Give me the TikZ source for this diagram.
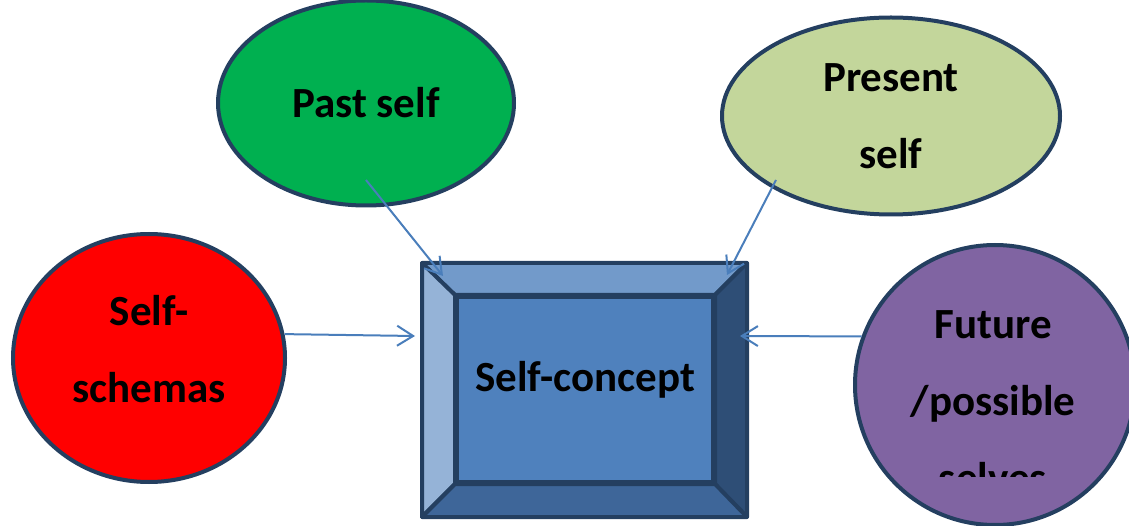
\documentclass[tikz,border=0pt]{standalone}
\usepackage{fontspec}
\setmainfont{Carlito}
\usetikzlibrary{shapes.geometric, arrows.meta}
\definecolor{rim}{HTML}{243F60}
\definecolor{linkblue}{HTML}{4A7EBB}
\definecolor{pastgreen}{HTML}{00B050}
\definecolor{presentgreen}{HTML}{C3D69B}
\definecolor{schemared}{HTML}{FF0000}
\definecolor{futurepurple}{HTML}{8064A2}
\definecolor{boxblue}{HTML}{4F81BD}
\definecolor{bevtop}{HTML}{729ACA}
\definecolor{bevleft}{HTML}{95B3D7}
\definecolor{bevright}{HTML}{2E4E76}
\definecolor{bevbottom}{HTML}{3E6699}
\tikzset{
  x=1pt, y=-1pt,
  label font/.style={font=\bfseries\fontsize{43}{77}\selectfont},
  bubble/.style={ellipse, draw=rim, line width=4pt, inner sep=0pt, align=center, label font},
  bevel/.style={draw=rim, line width=4pt, line join=round},
  link/.style={draw=linkblue, line width=2pt, -{Straight Barb[length=16pt,width=20pt]}},
}

\begin{document}
\begin{tikzpicture}
		\useasboundingbox (0,0) rectangle (1129,526);

		% ellipses
		\node[bubble, fill=pastgreen, minimum width=296, minimum height=205] (past) at (366,103) {Past self};
		\node[bubble, fill=presentgreen, minimum width=338, minimum height=197] (present) at (891,116) {Present\\self};
		\node[bubble, fill=schemared, minimum width=272, minimum height=248, text depth=18pt] (schemas) at (149,358) {Self-\\schemas};
		\node[bubble, fill=futurepurple, minimum width=280, minimum height=280] (future) at (995,385) {};
		\begin{scope}
			\clip (840,240) rectangle (1129,476);
			\node[label font, align=center] (futuretext) at (993,402) {Future\\/possible\\selves};
		\end{scope}

		% bevelled box
		\node[fill=boxblue, draw=rim, line width=4pt, minimum width=256, minimum height=185, inner sep=0pt, text depth=27pt, label font] (box) at (585,389.5) {Self-concept};
		\draw[bevel, fill=bevtop] (422,263) -- (747,263) -- (box.north east) -- (box.north west) -- cycle;
		\draw[bevel, fill=bevleft] (422,263) -- (box.north west) -- (box.south west) -- (422,517) -- cycle;
		\draw[bevel, fill=bevright] (747,263) -- (747,517) -- (box.south east) -- (box.north east) -- cycle;
		\draw[bevel, fill=bevbottom] (422,517) -- (747,517) -- (box.south east) -- (box.south west) -- cycle;

		% arrows
		\coordinate (pastfoot) at (366,180);
		\coordinate (presentfoot) at (776,180);
		\coordinate (intopleft) at (443,276);
		\coordinate (intopright) at (727,275);
		\coordinate (inleft) at (415,336);
		\coordinate (inright) at (740,336);
		\draw[link] (pastfoot) -- (intopleft);
		\draw[link] (presentfoot) -- (intopright);
		\draw[link] (schemas.10) -- (inleft);
		\draw[link] (future.160) -- (inright);

	\end{tikzpicture}
\end{document}
